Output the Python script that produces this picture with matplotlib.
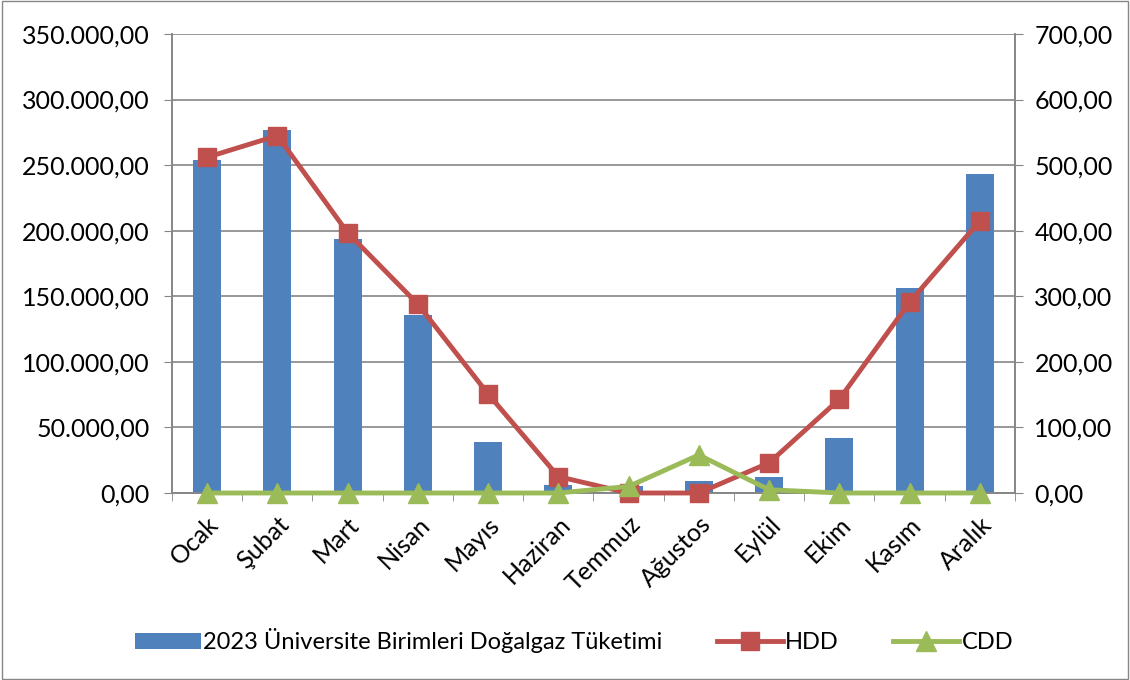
import matplotlib.pyplot as plt
from matplotlib.ticker import FuncFormatter
import numpy as np

plt.rcParams['font.family'] = ['Lato', 'DejaVu Sans']

months = ["Ocak", "Şubat", "Mart", "Nisan", "Mayıs", "Haziran",
          "Temmuz", "Ağustos", "Eylül", "Ekim", "Kasım", "Aralık"]
gas = [254000, 277000, 194000, 136000, 39000, 6000,
       5000, 9500, 12500, 42000, 156000, 243000]
hdd = [512, 545, 397, 288, 151, 25, 0, 0, 46, 143, 291, 415]
cdd = [0, 0, 0, 0, 0, 0, 10, 58, 5, 0, 0, 0]

GRID = "#868686"


def tr_fmt(v, _pos):
    s = f"{v:,.2f}"
    return s.replace(",", "X").replace(".", ",").replace("X", ".")


fig = plt.figure(figsize=(11.3, 6.8), dpi=100)
ax = fig.add_axes([0.1522, 0.275, 0.746, 0.675])
ax2 = ax.twinx()

x = np.arange(len(months))
bars = ax.bar(x, gas, width=0.4, color="#4F81BD", zorder=2,
              label="2023 Üniversite Birimleri Doğalgaz Tüketimi")
l1, = ax2.plot(x, hdd, color="#C0504D", lw=3.5, marker="s", ms=13,
               label="HDD", zorder=3, clip_on=False)
l2, = ax2.plot(x, cdd, color="#9BBB59", lw=3.5, marker="^", ms=15,
               label="CDD", zorder=4, clip_on=False)

ax.set_xlim(-0.5, 11.5)
ax.set_ylim(0, 350000)
ax.set_yticks(np.arange(0, 350001, 50000))
ax2.set_ylim(0, 700)
ax2.set_yticks(np.arange(0, 701, 100))
ax.yaxis.set_major_formatter(FuncFormatter(tr_fmt))
ax2.yaxis.set_major_formatter(FuncFormatter(tr_fmt))

ax.grid(axis="y", color=GRID, lw=1.2, zorder=0)
ax.set_axisbelow(True)

ax.set_xticks(x)
ax.set_xticklabels(months, rotation=45, ha="right", rotation_mode="anchor",
                   fontsize=18)
ax.set_xticks(np.arange(-0.5, 12, 1), minor=True)
ax.tick_params(axis="x", which="major", length=0, pad=14)
ax.tick_params(axis="x", which="minor", length=6, color=GRID, direction="out")
ax.tick_params(axis="y", labelsize=18, length=6, color=GRID, pad=10)
ax2.tick_params(axis="y", labelsize=18, length=6, color=GRID, pad=8)

for a in (ax, ax2):
    a.spines["top"].set_visible(False)
    for s in ("left", "right", "bottom"):
        a.spines[s].set_color(GRID)
        a.spines[s].set_linewidth(1.2)

fig.legend(handles=[bars, l1, l2], loc="center", bbox_to_anchor=(0.508, 0.058),
           ncol=3, frameon=False, fontsize=17, handlelength=2.8,
           columnspacing=2.3, handletextpad=0.1)

fig.patches.append(plt.Rectangle((0.002, 0.002), 0.996, 0.996,
                                 transform=fig.transFigure, fill=False,
                                 edgecolor=GRID, lw=1))

fig.savefig("out.png", dpi=100)
